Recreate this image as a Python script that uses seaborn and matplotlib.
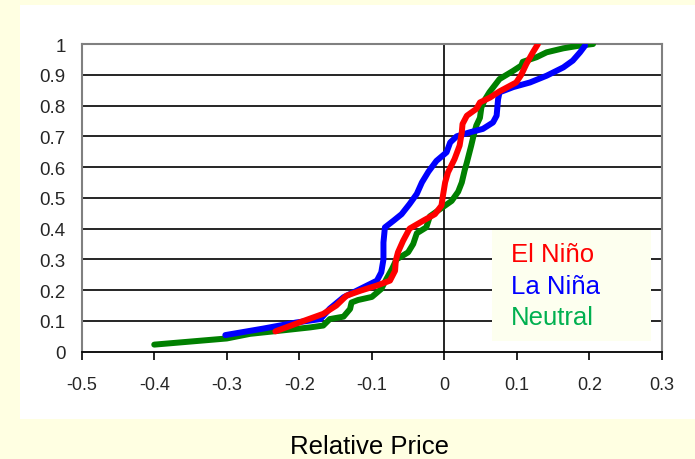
import matplotlib
matplotlib.use("Agg")
import matplotlib.pyplot as plt
import seaborn as sns
import pandas as pd
from matplotlib.patches import Rectangle
from matplotlib.lines import Line2D

sns.set_style("white")
plt.rcParams["font.family"] = ["Liberation Sans", "DejaVu Sans"]

# cumulative probability curves
neutral_x = [-0.400, -0.300, -0.268, -0.220, -0.185, -0.167, -0.158, -0.139, -0.130, -0.128,
             -0.119, -0.100, -0.087, -0.080, -0.072, -0.066, -0.050, -0.043, -0.038, -0.025,
             -0.020, -0.005, 0.010, 0.019, 0.024, 0.028, 0.031, 0.037, 0.040, 0.044, 0.049,
             0.051, 0.056, 0.062, 0.076, 0.095, 0.106, 0.108, 0.127, 0.141, 0.164, 0.187, 0.205]
neutral_y = [0.023, 0.043, 0.058, 0.070, 0.079, 0.085, 0.106, 0.114, 0.139, 0.160,
             0.168, 0.178, 0.204, 0.236, 0.270, 0.300, 0.323, 0.350, 0.385, 0.404,
             0.440, 0.465, 0.490, 0.520, 0.550, 0.590, 0.615, 0.670, 0.700, 0.735, 0.760,
             0.794, 0.820, 0.843, 0.886, 0.913, 0.930, 0.942, 0.957, 0.973, 0.986, 0.995, 1.000]

lanina_x = [-0.302, -0.250, -0.204, -0.171, -0.158, -0.139, -0.116, -0.093, -0.087, -0.084,
            -0.084, -0.082, -0.070, -0.059, -0.048, -0.038, -0.031, -0.022, -0.011, 0.003,
            0.008, 0.017, 0.035, 0.053, 0.067, 0.072, 0.074, 0.076, 0.095, 0.118, 0.141,
            0.164, 0.177, 0.187, 0.194]
lanina_y = [0.054, 0.075, 0.095, 0.106, 0.140, 0.177, 0.204, 0.231, 0.258, 0.300,
            0.355, 0.404, 0.426, 0.447, 0.480, 0.513, 0.550, 0.585, 0.620, 0.648,
            0.680, 0.700, 0.713, 0.724, 0.745, 0.767, 0.820, 0.843, 0.860, 0.875, 0.897,
            0.924, 0.946, 0.973, 0.995]

elnino_x = [-0.233, -0.200, -0.167, -0.149, -0.135, -0.116, -0.093, -0.075, -0.068, -0.067,
            -0.064, -0.057, -0.048, -0.029, -0.013, -0.004, -0.002, 0.001, 0.005, 0.014,
            0.021, 0.024, 0.025, 0.031, 0.044, 0.049, 0.063, 0.076, 0.099, 0.106, 0.113,
            0.122, 0.129]
elnino_y = [0.066, 0.095, 0.123, 0.150, 0.182, 0.198, 0.215, 0.231, 0.263, 0.296,
            0.323, 0.360, 0.400, 0.426, 0.447, 0.475, 0.507, 0.550, 0.583, 0.626,
            0.670, 0.713, 0.740, 0.767, 0.789, 0.810, 0.826, 0.846, 0.875, 0.900, 0.935,
            0.973, 1.000]

series = [("Neutral", neutral_x, neutral_y, "#008000"),
          ("La Niña", lanina_x, lanina_y, "#0000FF"),
          ("El Niño", elnino_x, elnino_y, "#FF0000")]
legend_order = ["El Niño", "La Niña", "Neutral"]
legend_text_col = {"El Niño": "#FF0000", "La Niña": "#0000FF", "Neutral": "#00B050"}

x_ticks = [-0.5, -0.4, -0.3, -0.2, -0.1, 0, 0.1, 0.2, 0.3]
y_ticks = [0, 0.1, 0.2, 0.3, 0.4, 0.5, 0.6, 0.7, 0.8, 0.9, 1]

fig = plt.figure(figsize=(6.95, 4.6), dpi=100)
fig.patch.set_facecolor("#FFFFE2")
fig.patches.append(Rectangle((20 / 695, 40 / 460), 1 - 20 / 695, 414 / 460,
                             transform=fig.transFigure, facecolor="white",
                             edgecolor="none", zorder=-1))
ax = fig.add_axes([81.7 / 695, 107.3 / 460, 580.3 / 695, 307.7 / 460])
ax.set_facecolor("white")

for name, xs, ys, col in series:
    df = pd.DataFrame({"x": xs, "y": ys})
    sns.lineplot(data=df, x="x", y="y", ax=ax, sort=False, estimator=None,
                 color=col, lw=4.3, solid_capstyle="round", solid_joinstyle="round",
                 legend=False, zorder=3)

ax.set_xlim(-0.5, 0.3)
ax.set_ylim(0, 1)
ax.set_xticks(x_ticks)
ax.set_xticklabels([f"{v:g}" for v in x_ticks])
ax.set_yticks(y_ticks)
ax.set_yticklabels([f"{v:g}" for v in y_ticks])
ax.set_xlabel("")
ax.set_ylabel("")
for v in y_ticks[1:-1]:
    ax.axhline(v, color="black", lw=1.2, zorder=1)
ax.axvline(0, color="black", lw=1.2, zorder=1)

for side in ["left", "top", "right"]:
    ax.spines[side].set_color("#808080")
    ax.spines[side].set_linewidth(1.5)
ax.spines["bottom"].set_color("black")
ax.spines["bottom"].set_linewidth(1.3)

ax.tick_params(axis="x", which="both", bottom=True, direction="out", length=5.5,
               width=1.2, color="black", pad=12, labelsize=13)
ax.tick_params(axis="y", which="both", left=False, length=0, pad=11.5, labelsize=13.5)

handles = [Line2D([], [], lw=0) for _ in legend_order]
leg = ax.legend(handles, legend_order, loc="lower left",
                bbox_to_anchor=(0.707, 0.035, 0.274, 0.38), mode="expand",
                borderaxespad=0, handlelength=0, handletextpad=0.3, borderpad=0.45,
                labelspacing=0.3, fontsize=18.5, frameon=True, fancybox=False,
                facecolor="#FDFFEF", edgecolor="none", framealpha=1)
for t in leg.get_texts():
    t.set_color(legend_text_col[t.get_text()])
leg.set_zorder(5)

fig.text(369 / 695, 6 / 460, "Relative Price", ha="center", va="baseline",
         fontsize=18.5, color="black")

fig.savefig("out.png", dpi=100, facecolor=fig.get_facecolor())
